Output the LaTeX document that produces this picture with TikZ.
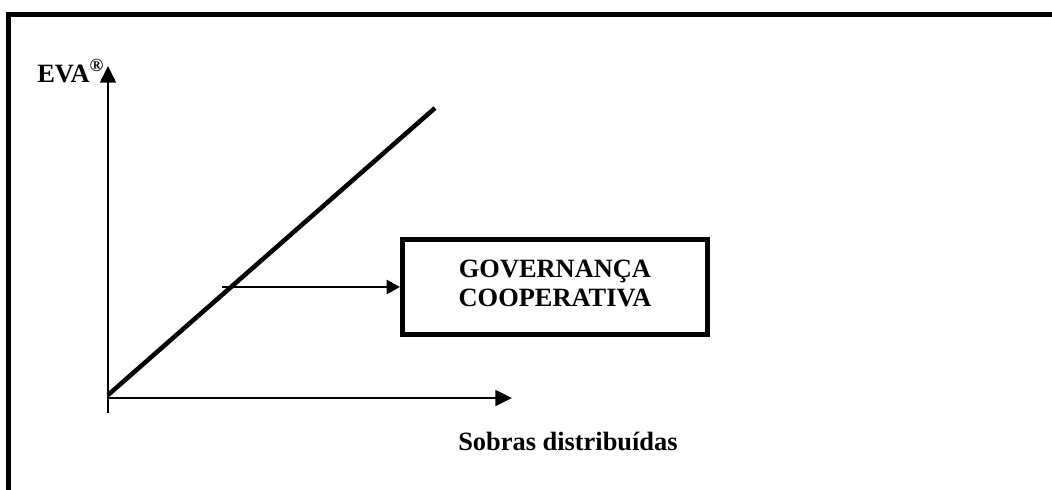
\documentclass[tikz,border=0pt]{standalone}
\usepackage{fontspec}
\setmainfont{Liberation Serif}
\usetikzlibrary{arrows.meta}
\begin{document}
\begin{tikzpicture}[x=0.75pt,y=-0.75pt,
  lbl/.style={font=\fontsize{19.8}{21.5}\selectfont\bfseries},
  axis/.style={draw,line width=1.1pt,-{Triangle[length=12.5pt,width=12pt]}},
  link/.style={draw,line width=0.8pt,-{Triangle[length=10pt,width=11pt]}}]
\useasboundingbox (0,0) rectangle (1052,489);
\path[draw,line width=3.75pt,line cap=rect] (8.5,495) -- (8.5,14.5) -- (1060,14.5);
\coordinate (o) at (108,398);
\coordinate (yb) at (108,413);
\coordinate (yt) at (108,66);
\coordinate (xt) at (512,398);
\coordinate (d1) at (108,395);
\coordinate (d2) at (435,108);
\coordinate (s) at (222,287);
\node[lbl,anchor=base west,inner sep=0pt] (eva) at (37,82) {EVA\textsuperscript{\textregistered}};
\node[lbl,anchor=base west,inner sep=0pt] (sob) at (458,450) {Sobras distribuídas};
\node[lbl,draw,line width=3.75pt,minimum width=229pt,minimum height=71pt,align=center,text depth=6pt] (gov) at (555,287) {GOVERNANÇA\\COOPERATIVA};
\path[axis] (yb) -- (yt);
\path[axis] (o) -- (xt);
\path[draw,line width=3.4pt] (d1) -- (d2);
\path[link] (s) -- (gov.west);
\end{tikzpicture}
\end{document}
